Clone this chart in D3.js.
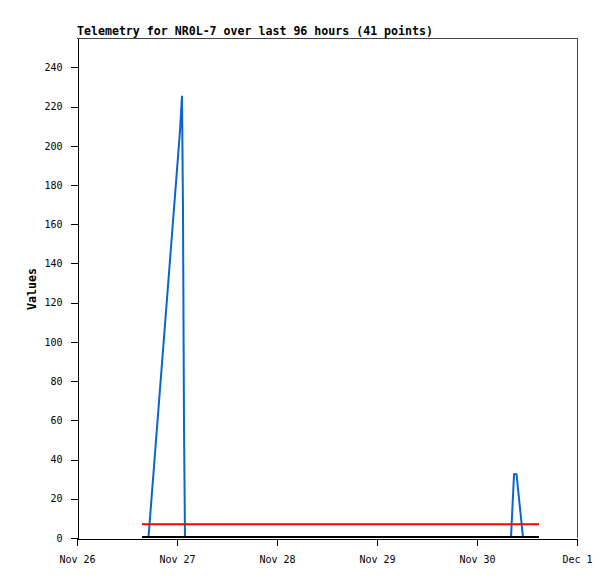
<!DOCTYPE html>
<html>
<head>
<meta charset="utf-8">
<script src="https://cdn.jsdelivr.net/npm/d3@7"></script>
<style>
body { margin: 0; background: #fff; }
text { font-family: "DejaVu Sans Mono", "Liberation Mono", monospace; }
</style>
</head>
<body>
<script>
// telemetry series
var blueTimes = ["2023-11-26 15:36", "2023-11-26 17:10", "2023-11-27 00:43", "2023-11-27 01:12",
                 "2023-11-27 01:26", "2023-11-27 01:41", "2023-11-27 01:55", "2023-11-30 08:10",
                 "2023-11-30 08:53", "2023-11-30 09:29", "2023-11-30 11:02", "2023-11-30 14:53"];
var blueValues = [0, 0, 207, 225, 168, 56, 0, 0, 32, 32, 0, 0];

var redTimes = ["2023-11-26 15:36", "2023-11-30 14:53"];
var redValues = [7, 7];

var blackTimes = ["2023-11-26 15:36", "2023-11-30 14:53"];
var blackValues = [0, 0];

var yTicks = [0, 20, 40, 60, 80, 100, 120, 140, 160, 180, 200, 220, 240];
var xStart = "2023-11-26 00:00", xEnd = "2023-12-01 00:00";

var w = 615, h = 579;
var pLeft = 77, pRight = 577, pTop = 38, pBottom = 538;

var parse = d3.timeParse("%Y-%m-%d %H:%M");

var svg = d3.select("body").append("svg")
    .attr("width", w)
    .attr("height", h);

var x = d3.scaleTime()
    .domain([parse(xStart), parse(xEnd)])
    .range([pLeft, pRight]);

var y = d3.scaleLinear()
    .domain([0, 255])
    .range([pBottom, pTop]);

// title
svg.append("text")
    .attr("x", 77)
    .attr("y", 35)
    .attr("font-size", "11.6px")
    .attr("font-weight", "bold")
    .text("Telemetry for NR0L-7 over last 96 hours (41 points)");

// frame top / right
svg.append("path")
    .attr("d", "M" + pLeft + "," + (pTop + 0.5) + "H" + (pRight + 0.5) + "V" + pBottom)
    .attr("fill", "none")
    .attr("stroke", "#444")
    .attr("shape-rendering", "crispEdges");

var line = d3.line()
    .x(function(d) { return x(d[0]); })
    .y(function(d) { return y(d[1]); });

var drawSeries = function(times, values, color, shift) {
    var pts = times.map(function(t, i) { return [parse(t), values[i]]; });
    svg.append("path")
        .datum(pts)
        .attr("d", line)
        .attr("transform", "translate(0," + shift + ")")
        .attr("fill", "none")
        .attr("stroke", color)
        .attr("stroke-width", 2);
};

drawSeries(blueTimes, blueValues, "#0a66cc", -1);
drawSeries(redTimes, redValues, "#ff0000", 0);
drawSeries(blackTimes, blackValues, "#000", -1);

// y axis
var yAxis = svg.append("g")
    .attr("transform", "translate(" + (pLeft + 0.5) + ",0)")
    .call(d3.axisLeft(y).tickValues(yTicks).tickSize(7).tickSizeOuter(0).tickPadding(8));

// x axis
var xAxis = svg.append("g")
    .attr("transform", "translate(0," + (pBottom + 0.5) + ")")
    .call(d3.axisBottom(x).ticks(d3.timeDay.every(1)).tickFormat(d3.timeFormat("%b %-d"))
          .tickSize(7).tickSizeOuter(0).tickPadding(10));

[yAxis, xAxis].forEach(function(g) {
    g.selectAll("path, line").attr("stroke", "#000").attr("shape-rendering", "crispEdges");
    g.selectAll("text").attr("font-size", "10px").attr("fill", "#000")
        .attr("font-family", "'DejaVu Sans Mono', 'Liberation Mono', monospace");
});

// y label
svg.append("text")
    .attr("transform", "translate(36,289) rotate(-90)")
    .attr("text-anchor", "middle")
    .attr("font-size", "11.6px")
    .attr("font-weight", "bold")
    .text("Values");
</script>
</body>
</html>
